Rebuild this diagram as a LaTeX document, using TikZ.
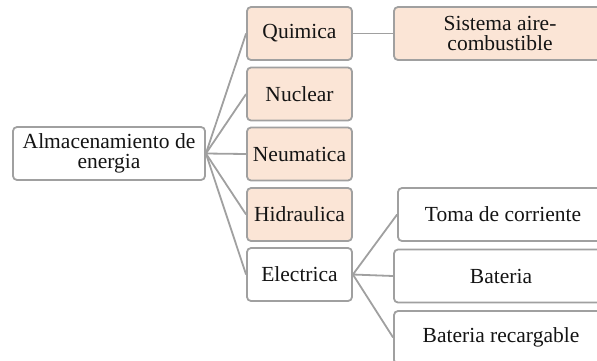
\documentclass[tikz,border=0pt]{standalone}
\usepackage{fontspec}
\setmainfont{Liberation Serif}
\definecolor{peach}{RGB}{251,229,214}
\definecolor{edgegray}{RGB}{160,160,160}
\definecolor{txt}{RGB}{20,20,20}
\tikzset{
  box/.style={draw=edgegray, line width=1.8pt, rounded corners=4pt, align=center,
    inner sep=0pt, minimum height=53pt, text=txt,
    font=\fontsize{21.5}{20}\selectfont},
  warm/.style={box, fill=peach},
  plain/.style={box, fill=white},
  link/.style={draw=edgegray, line width=1.8pt},
}
\begin{document}
\begin{tikzpicture}[x=1pt,y=-1pt]
\clip (0,0) rectangle (597,360);
\node[plain, minimum width=192pt] (root) at (109,153.5) {Almacenamiento de\\energia};
\node[warm, minimum width=105pt] (qui) at (299.5,33.5) {Quimica};
\node[warm, minimum width=105pt] (nuc) at (299.5,94) {Nuclear};
\node[warm, minimum width=105pt] (neu) at (299.5,154) {Neumatica};
\node[warm, minimum width=105pt] (hid) at (299.5,214.5) {Hidraulica};
\node[plain, minimum width=105pt] (ele) at (299.5,274.5) {Electrica};
\node[warm, minimum width=212pt] (sis) at (500,33.5) {Sistema aire-\\combustible};
\node[plain, minimum width=210pt] (toma) at (503,214.5) {Toma de corriente};
\node[plain, minimum width=214pt] (bat) at (501,276) {Bateria};
\node[plain, minimum width=214pt] (batr) at (501,337.5) {Bateria recargable};
\draw[link] (root.east) -- (qui.west);
\draw[link] (root.east) -- (nuc.west);
\draw[link] (root.east) -- (neu.west);
\draw[link] (root.east) -- (hid.west);
\draw[link] (root.east) -- (ele.west);
\draw[link] (qui.east) -- (sis.west);
\draw[link] (ele.east) -- (toma.west);
\draw[link] (ele.east) -- (bat.west);
\draw[link] (ele.east) -- (batr.west);
\end{tikzpicture}
\end{document}
